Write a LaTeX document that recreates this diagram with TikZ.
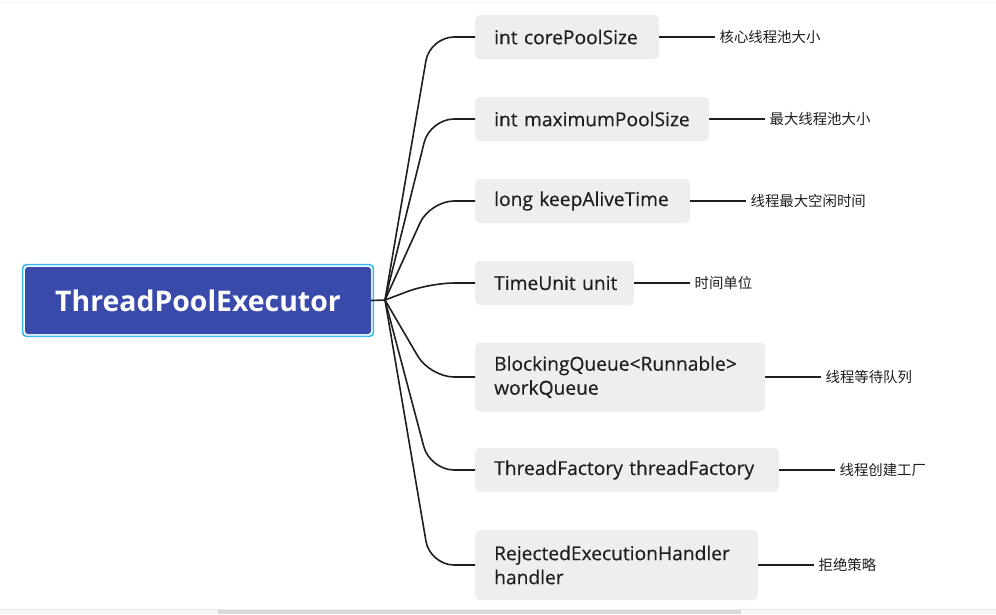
\documentclass[tikz,border=0pt]{standalone}
\usepackage{fontspec}
\setmainfont{Open Sans}
\newfontfamily\medfont{Open Sans}[FakeBold=0.35]
\newfontfamily\cjk{Noto Sans CJK SC}
\definecolor{rootfill}{HTML}{3A4AAB}
\definecolor{rootring}{HTML}{35B8F5}
\definecolor{boxgray}{HTML}{EEEEEE}
\definecolor{linec}{HTML}{1E1E1E}
\definecolor{barbg}{HTML}{F6F6F6}
\definecolor{thumb}{HTML}{D8D8D8}
\tikzset{
  rootbox/.style={fill=rootfill, rounded corners=3pt, minimum width=346pt, minimum height=67pt,
    inner sep=0pt, text=white, font=\fontsize{28.4}{32}\selectfont\bfseries},
  childbox/.style={fill=boxgray, rounded corners=5pt, anchor=west, minimum height=44pt,
    inner xsep=19pt, inner ysep=0pt, align=left, text=linec,
    font=\medfont\fontsize{19.2}{24}\selectfont},
  leaf/.style={anchor=west, inner xsep=4pt, inner ysep=0pt, text=linec,
    font=\cjk\fontsize{14.4}{16}\selectfont},
  branch/.style={draw=linec, line width=1.6pt, rounded corners=24pt},
  twig/.style={draw=linec, line width=1.6pt},
}
\begin{document}
\begin{tikzpicture}[x=1pt,y=-1pt]
\useasboundingbox (0,0) rectangle (996,614);
\fill[white] (0,0) rectangle (996,614);
\draw[barbg, line width=1pt] (0,2.5) -- (996,2.5);
\fill[barbg] (0,609) rectangle (996,614);
\draw[black!8, line width=0.6pt] (0,609) -- (996,609);
\fill[thumb] (218,609.5) rectangle (741,614);

% root
\node[rootbox] (root) at (198,300.5) {ThreadPoolExecutor};
\draw[rootring, line width=1.6pt, rounded corners=4pt]
  ([shift={(-2.2,-2.2)}]root.north west) rectangle ([shift={(2.2,2.2)}]root.south east);
\coordinate (hub) at (385,300);

% children
\node[childbox, text width=146pt] (c1) at (475,37) {\mbox{int corePoolSize}};
\node[childbox, text width=196pt] (c2) at (475,119) {\mbox{int maximumPoolSize}};
\node[childbox, text width=177pt] (c3) at (475,201) {\mbox{long keepAliveTime}};
\node[childbox, text width=121pt] (c4) at (475,283) {\mbox{TimeUnit unit}};
\node[childbox, text width=252pt, minimum height=69pt] (c5) at (475,377) {\mbox{BlockingQueue<Runnable>}\\workQueue};
\node[childbox, text width=266pt] (c6) at (475,470) {\mbox{ThreadFactory threadFactory}};
\node[childbox, text width=245pt, minimum height=70pt] (c7) at (475,565) {\mbox{RejectedExecutionHandler}\\handler};

% leaves
\node[leaf] (l1) at ([xshift=56pt]c1.east) {核心线程池大小};
\node[leaf] (l2) at ([xshift=56pt]c2.east) {最大线程池大小};
\node[leaf] (l3) at ([xshift=56pt]c3.east) {线程最大空闲时间};
\node[leaf] (l4) at ([xshift=56pt]c4.east) {时间单位};
\node[leaf] (l5) at ([xshift=56pt]c5.east) {线程等待队列};
\node[leaf] (l6) at ([xshift=56pt]c6.east) {线程创建工厂};
\node[leaf] (l7) at ([xshift=56pt]c7.east) {拒绝策略};

% connectors
\draw[twig] (root.east) -- (hub);
\foreach \c in {c1,c2,c3,c4,c5,c6,c7}{
  \draw[branch] (hub) -- (\c.west -| 430,0) -- (\c.west);
}
\foreach \c/\l in {c1/l1,c2/l2,c3/l3,c4/l4,c5/l5,c6/l6,c7/l7}{
  \draw[twig] (\c.east) -- (\l.west);
}
\end{tikzpicture}
\end{document}
